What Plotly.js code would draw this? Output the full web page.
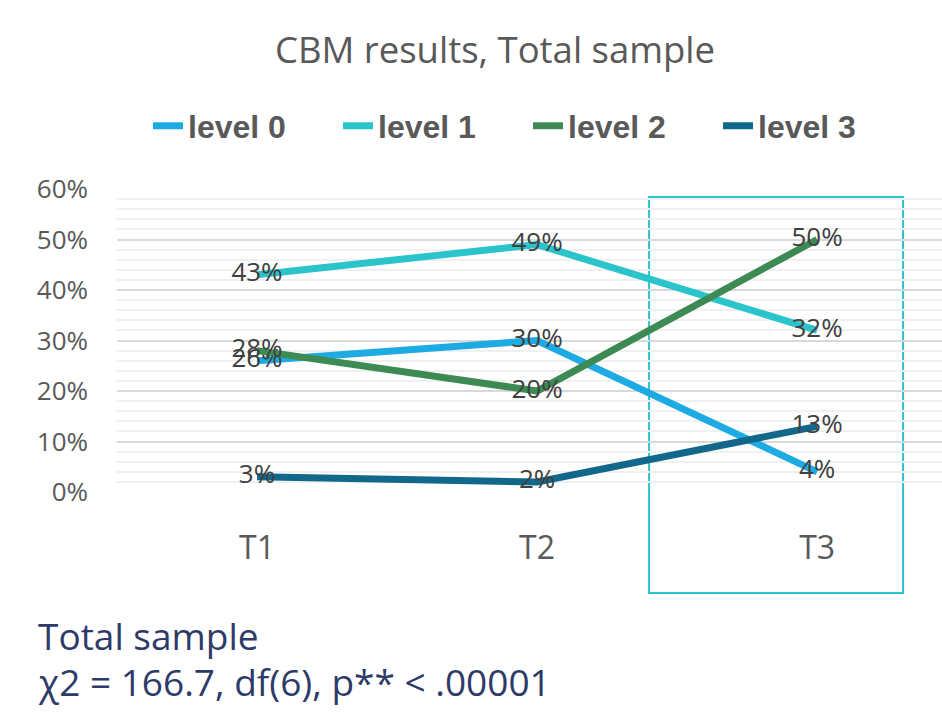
<!DOCTYPE html>
<html>
<head>
<meta charset="utf-8">
<script src="https://cdn.plot.ly/plotly-3.0.1.min.js"></script>
<style>
  html, body { margin: 0; padding: 0; background: #ffffff; }
  #chart { width: 942px; height: 713px; }
</style>
</head>
<body>
<div id="chart"></div>
<script>
// Measurement times
const times = ['T1', 'T2', 'T3'];

// Share of the total sample at each CBM level (percent)
const level0 = [26, 30, 4];
const level1 = [43, 49, 32];
const level2 = [28, 20, 50];
const level3 = [3, 2, 13];

const seriesNames = ['level 0', 'level 1', 'level 2', 'level 3'];
const seriesColors = ['#1EABE3', '#2CC4CB', '#3D8A55', '#11688A'];

const chartTitle = 'CBM results, Total sample';
const noteLines = ['Total sample', 'χ2 = 166.7, df(6), p** < .00001'];

const seriesValues = [level0, level1, level2, level3];

const traces = seriesValues.map((vals, i) => ({
  type: 'scatter',
  mode: 'lines+text',
  name: seriesNames[i],
  x: times,
  y: vals,
  text: vals.map(v => v + '%'),
  textposition: 'middle center',
  textfont: { family: 'Open Sans, sans-serif', size: 26, color: '#404040' },
  line: { color: seriesColors[i], width: 7 },
  cliponaxis: false,
  hoverinfo: 'skip'
}));

// plot area spans 117..942 px horizontally and 189..492 px vertically
const plotLeft = 117, plotWidth = 825, plotBottom = 492, plotHeight = 303;

const layout = {
  width: 942,
  height: 713,
  paper_bgcolor: '#ffffff',
  plot_bgcolor: '#ffffff',
  margin: { l: 117, r: 0, t: 189, b: 221, pad: 0 },
  title: {
    text: chartTitle,
    font: { family: 'Open Sans, sans-serif', size: 36.5, color: '#595959' },
    x: 495 / 942,
    xref: 'container',
    xanchor: 'center',
    y: 1 - 50 / 713,
    yref: 'container',
    yanchor: 'middle'
  },
  showlegend: true,
  legend: {
    orientation: 'h',
    xref: 'container',
    yref: 'container',
    x: 148 / 942,
    xanchor: 'left',
    y: 1 - 126 / 713,
    yanchor: 'middle',
    font: { family: 'Liberation Sans, Arial, sans-serif', size: 32, color: '#595959', weight: 'bold' },
    entrywidth: 145,
    entrywidthmode: 'pixels',
    itemwidth: 30,
    bgcolor: 'rgba(0,0,0,0)'
  },
  xaxis: {
    type: 'category',
    range: [-0.5, 2.446],
    showgrid: false,
    zeroline: false,
    showline: false,
    ticks: '',
    ticklabelstandoff: 34,
    tickfont: { family: 'Open Sans, sans-serif', size: 32, color: '#595959' },
    fixedrange: true
  },
  yaxis: {
    range: [0, 60],
    dtick: 10,
    tick0: 0,
    ticksuffix: '%',
    showgrid: true,
    gridcolor: '#D9D9D9',
    gridwidth: 2,
    zeroline: false,
    showline: false,
    ticks: '',
    ticklabelstandoff: 28,
    tickfont: { family: 'Open Sans, sans-serif', size: 26, color: '#595959' },
    minor: { dtick: 2, tick0: 0, showgrid: true, gridcolor: '#F0F0F0', gridwidth: 2 },
    fixedrange: true
  },
  shapes: [{
    type: 'rect',
    xref: 'x',
    yref: 'paper',
    x0: 1.4,
    x1: 2.307,
    y0: -0.333,
    y1: 0.9736,
    line: { color: '#2CC4CB', width: 2 },
    fillcolor: 'rgba(0,0,0,0)',
    layer: 'below'
  }],
  annotations: noteLines.map((t, i) => ({
    text: t,
    xref: 'paper',
    yref: 'paper',
    x: (36 - plotLeft) / plotWidth,
    xanchor: 'left',
    y: (plotBottom - (635 + i * 46)) / plotHeight,
    yanchor: 'middle',
    showarrow: false,
    font: { family: 'Open Sans, sans-serif', size: 37, color: '#2E3A68' }
  }))
};

Plotly.newPlot('chart', traces, layout, { staticPlot: true, displayModeBar: false });
</script>
</body>
</html>
